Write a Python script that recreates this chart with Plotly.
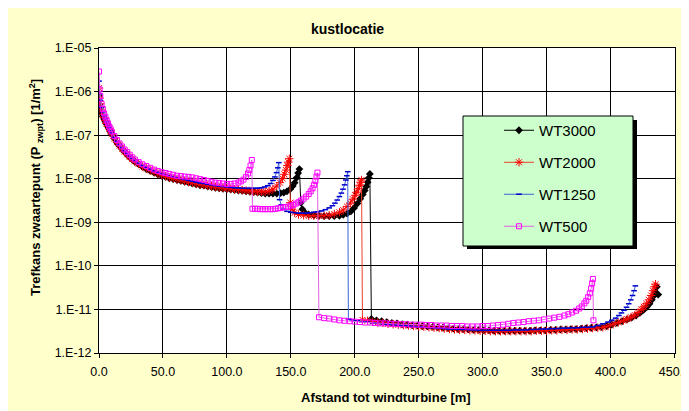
import plotly.graph_objects as go

# ---------------- data ----------------
series_names = ["WT3000", "WT2000", "WT1250", "WT500"]

# WT3000
wt3000_x1 = [0, 0.5, 1, 2, 3, 4, 5, 6, 7, 8, 9, 10, 12, 14, 16, 18, 20, 22, 24, 26, 28, 31, 34, 37, 40, 43, 46, 49, 52, 55, 58, 61, 64, 67, 70, 73, 76, 79, 82, 85, 88, 91, 94, 97, 100, 103, 106, 109, 112, 115, 118, 121, 124, 127, 130, 133, 136, 139, 142, 144.5, 147, 149.5, 151.5, 153, 154.5, 155.7, 156.7]
wt3000_y1 = [7.94e-7, 5.01e-7, 3.98e-7, 3.16e-7, 2.69e-7, 2.34e-7, 2.04e-7, 1.78e-7, 1.55e-7, 1.38e-7, 1.20e-7, 1.05e-7, 8.32e-8, 6.76e-8, 5.62e-8, 4.79e-8, 4.07e-8, 3.55e-8, 3.09e-8, 2.75e-8, 2.45e-8, 2.14e-8, 1.86e-8, 1.66e-8, 1.51e-8, 1.38e-8, 1.26e-8, 1.17e-8, 1.10e-8, 1.02e-8, 9.77e-9, 9.33e-9, 8.91e-9, 8.51e-9, 8.13e-9, 7.76e-9, 7.41e-9, 7.08e-9, 6.92e-9, 6.61e-9, 6.46e-9, 6.17e-9, 6.03e-9, 5.89e-9, 5.75e-9, 5.62e-9, 5.50e-9, 5.37e-9, 5.25e-9, 5.13e-9, 5.01e-9, 4.90e-9, 4.79e-9, 4.68e-9, 4.57e-9, 4.57e-9, 4.57e-9, 4.57e-9, 4.68e-9, 4.79e-9, 5.13e-9, 5.75e-9, 6.76e-9, 8.13e-9, 1.05e-8, 1.35e-8, 1.66e-8]
wt3000_x2 = [157.8, 159, 161, 164, 168, 172, 176, 180, 184, 188, 191, 194, 197, 199.5, 202, 204.3, 206.3, 207.8, 209, 210.1, 211, 211.8]
wt3000_y2 = [2.82e-9, 2.00e-9, 1.66e-9, 1.51e-9, 1.45e-9, 1.41e-9, 1.38e-9, 1.38e-9, 1.38e-9, 1.41e-9, 1.48e-9, 1.58e-9, 1.78e-9, 2.14e-9, 2.69e-9, 3.47e-9, 4.37e-9, 5.37e-9, 6.61e-9, 8.32e-9, 1.05e-8, 1.29e-8]
wt3000_x3 = [213, 217, 221, 225, 229, 233, 237, 241, 245, 249, 253, 257, 261, 265, 269, 273, 277, 281, 285, 289, 293, 297, 301, 305, 309, 313, 317, 321, 325, 329, 333, 337, 341, 345, 349, 353, 357, 361, 365, 369, 373, 377, 381, 385, 389, 393, 397, 401, 405, 409, 413, 416.5, 420, 423, 426, 428.5, 430.5, 432.3, 433.8, 435, 436.2, 437.3]
wt3000_y3 = [6.03e-12, 5.62e-12, 5.37e-12, 5.13e-12, 4.90e-12, 4.79e-12, 4.57e-12, 4.47e-12, 4.37e-12, 4.27e-12, 4.17e-12, 4.07e-12, 3.98e-12, 3.89e-12, 3.80e-12, 3.72e-12, 3.63e-12, 3.55e-12, 3.55e-12, 3.47e-12, 3.39e-12, 3.39e-12, 3.31e-12, 3.31e-12, 3.24e-12, 3.24e-12, 3.24e-12, 3.24e-12, 3.24e-12, 3.24e-12, 3.24e-12, 3.24e-12, 3.31e-12, 3.31e-12, 3.31e-12, 3.39e-12, 3.39e-12, 3.47e-12, 3.47e-12, 3.55e-12, 3.55e-12, 3.63e-12, 3.72e-12, 3.80e-12, 3.89e-12, 3.98e-12, 4.17e-12, 4.47e-12, 4.90e-12, 5.37e-12, 5.89e-12, 6.46e-12, 7.24e-12, 8.32e-12, 9.77e-12, 1.15e-11, 1.35e-11, 1.66e-11, 2.04e-11, 2.51e-11, 3.31e-11, 2.19e-11]

# WT2000
wt2000_x1 = [0, 0.5, 1, 2, 3, 4, 5, 6, 7, 8, 9, 10, 12, 14, 16, 18, 20, 22, 24, 26, 28, 31, 34, 37, 40, 43, 46, 49, 52, 55, 58, 61, 64, 67, 70, 73, 76, 79, 82, 85, 88, 91, 94, 97, 100, 103, 106, 109, 112, 115, 118, 121, 124, 127, 130, 133, 136, 139, 141.5, 143.5, 145, 146.2, 147.2, 148, 148.8]
wt2000_y1 = [1.20e-6, 7.08e-7, 5.25e-7, 3.80e-7, 3.02e-7, 2.51e-7, 2.14e-7, 1.86e-7, 1.62e-7, 1.41e-7, 1.26e-7, 1.07e-7, 8.51e-8, 6.92e-8, 5.75e-8, 4.90e-8, 4.17e-8, 3.63e-8, 3.16e-8, 2.82e-8, 2.51e-8, 2.19e-8, 1.91e-8, 1.74e-8, 1.58e-8, 1.45e-8, 1.32e-8, 1.23e-8, 1.15e-8, 1.07e-8, 1.02e-8, 9.77e-9, 9.33e-9, 8.91e-9, 8.51e-9, 8.13e-9, 7.76e-9, 7.41e-9, 7.24e-9, 6.92e-9, 6.76e-9, 6.46e-9, 6.31e-9, 6.17e-9, 6.03e-9, 5.89e-9, 5.75e-9, 5.62e-9, 5.50e-9, 5.37e-9, 5.25e-9, 5.13e-9, 5.01e-9, 5.01e-9, 5.01e-9, 5.25e-9, 5.75e-9, 6.76e-9, 8.13e-9, 1.02e-8, 1.26e-8, 1.58e-8, 2.00e-8, 2.40e-8, 2.88e-8]
wt2000_x2 = [149.6, 151, 153, 156, 160, 164, 168, 172, 176, 180, 184, 188, 191, 194, 196.5, 198.5, 200.3, 201.6, 202.8, 203.8, 204.6, 205.3]
wt2000_y2 = [2.82e-9, 2.00e-9, 1.66e-9, 1.51e-9, 1.45e-9, 1.41e-9, 1.41e-9, 1.41e-9, 1.41e-9, 1.45e-9, 1.55e-9, 1.70e-9, 1.91e-9, 2.29e-9, 2.75e-9, 3.39e-9, 4.17e-9, 4.90e-9, 5.89e-9, 7.08e-9, 8.32e-9, 9.33e-9]
wt2000_x3 = [206, 210, 214, 218, 222, 226, 230, 234, 238, 242, 246, 250, 254, 258, 262, 266, 270, 274, 278, 282, 286, 290, 294, 298, 302, 306, 310, 314, 318, 322, 326, 330, 334, 338, 342, 346, 350, 354, 358, 362, 366, 370, 374, 378, 382, 386, 390, 394, 398, 402, 406, 410, 413, 416, 419, 421.5, 424, 426, 428, 430, 431.8, 433.2, 434.3, 435.2]
wt2000_y3 = [5.75e-12, 5.50e-12, 5.25e-12, 5.01e-12, 4.90e-12, 4.68e-12, 4.57e-12, 4.47e-12, 4.37e-12, 4.27e-12, 4.17e-12, 4.07e-12, 3.98e-12, 3.89e-12, 3.80e-12, 3.72e-12, 3.63e-12, 3.55e-12, 3.47e-12, 3.39e-12, 3.39e-12, 3.31e-12, 3.31e-12, 3.24e-12, 3.24e-12, 3.16e-12, 3.16e-12, 3.16e-12, 3.16e-12, 3.16e-12, 3.16e-12, 3.16e-12, 3.16e-12, 3.16e-12, 3.24e-12, 3.24e-12, 3.24e-12, 3.31e-12, 3.31e-12, 3.39e-12, 3.39e-12, 3.47e-12, 3.47e-12, 3.55e-12, 3.63e-12, 3.72e-12, 3.80e-12, 3.89e-12, 4.17e-12, 4.57e-12, 5.01e-12, 5.50e-12, 6.03e-12, 6.61e-12, 7.41e-12, 8.51e-12, 1.00e-11, 1.15e-11, 1.35e-11, 1.66e-11, 2.09e-11, 2.69e-11, 3.31e-11, 3.80e-11]

# WT1250
wt1250_x1 = [0, 0.5, 1, 2, 3, 4, 5, 6, 7, 8, 9, 10, 12, 14, 16, 18, 20, 22, 24, 26, 28, 31, 34, 37, 40, 43, 46, 49, 52, 55, 58, 61, 64, 67, 70, 73, 76, 79, 82, 85, 88, 91, 94, 97, 100, 103, 106, 109, 112, 115, 118, 121, 124, 127, 129.5, 132, 134.2, 136, 137.5, 138.8, 139.8, 140.6]
wt1250_y1 = [1.74e-6, 8.91e-7, 6.31e-7, 4.37e-7, 3.39e-7, 2.75e-7, 2.34e-7, 2.00e-7, 1.70e-7, 1.48e-7, 1.29e-7, 1.12e-7, 8.91e-8, 7.24e-8, 6.03e-8, 5.13e-8, 4.37e-8, 3.80e-8, 3.31e-8, 2.95e-8, 2.63e-8, 2.29e-8, 2.00e-8, 1.82e-8, 1.66e-8, 1.51e-8, 1.38e-8, 1.29e-8, 1.20e-8, 1.15e-8, 1.10e-8, 1.05e-8, 1.00e-8, 9.55e-9, 9.12e-9, 8.71e-9, 8.32e-9, 7.94e-9, 7.76e-9, 7.41e-9, 7.24e-9, 6.92e-9, 6.76e-9, 6.61e-9, 6.46e-9, 6.31e-9, 6.17e-9, 6.17e-9, 6.03e-9, 6.03e-9, 6.03e-9, 6.03e-9, 6.03e-9, 6.17e-9, 6.46e-9, 6.92e-9, 7.76e-9, 9.12e-9, 1.10e-8, 1.38e-8, 1.78e-8, 2.34e-8]
wt1250_x2 = [141.2, 142.5, 144.5, 147, 150, 153, 156, 159, 162, 165, 168, 171, 174, 177, 180, 182.5, 184.5, 186.3, 188, 189.5, 190.8, 192, 193, 193.8, 194.5]
wt1250_y2 = [3.31e-9, 2.51e-9, 2.00e-9, 1.78e-9, 1.70e-9, 1.66e-9, 1.62e-9, 1.62e-9, 1.62e-9, 1.66e-9, 1.70e-9, 1.74e-9, 1.82e-9, 1.95e-9, 2.14e-9, 2.40e-9, 2.75e-9, 3.24e-9, 3.89e-9, 4.68e-9, 5.75e-9, 7.24e-9, 9.33e-9, 1.17e-8, 1.45e-8]
wt1250_x3 = [195, 198, 202, 206, 210, 214, 218, 222, 226, 230, 234, 238, 242, 246, 250, 254, 258, 262, 266, 270, 274, 278, 282, 286, 290, 294, 298, 302, 306, 310, 314, 318, 322, 326, 330, 334, 338, 342, 346, 350, 354, 358, 362, 366, 370, 374, 378, 382, 386, 390, 394, 398, 401, 404, 406.5, 408.5, 410.5, 412.5, 414.2, 415.8, 417.2, 418.4, 419.4]
wt1250_y3 = [6.03e-12, 5.75e-12, 5.50e-12, 5.25e-12, 5.13e-12, 4.90e-12, 4.79e-12, 4.68e-12, 4.57e-12, 4.47e-12, 4.37e-12, 4.27e-12, 4.17e-12, 4.07e-12, 3.98e-12, 3.89e-12, 3.80e-12, 3.80e-12, 3.72e-12, 3.63e-12, 3.55e-12, 3.55e-12, 3.47e-12, 3.47e-12, 3.39e-12, 3.39e-12, 3.31e-12, 3.31e-12, 3.31e-12, 3.31e-12, 3.31e-12, 3.31e-12, 3.31e-12, 3.39e-12, 3.39e-12, 3.39e-12, 3.47e-12, 3.47e-12, 3.55e-12, 3.55e-12, 3.63e-12, 3.63e-12, 3.72e-12, 3.72e-12, 3.80e-12, 3.80e-12, 3.89e-12, 3.89e-12, 3.98e-12, 4.27e-12, 4.68e-12, 5.13e-12, 5.62e-12, 6.31e-12, 7.24e-12, 8.32e-12, 9.55e-12, 1.12e-11, 1.35e-11, 1.66e-11, 2.09e-11, 2.69e-11, 3.47e-11]

# WT500
wt500_x1 = [0, 0.5, 1, 2, 3, 4, 5, 6, 7, 8, 9, 10, 12, 14, 16, 18, 20, 22, 24, 26, 28, 31, 34, 37, 40, 43, 46, 49, 52, 55, 58, 61, 64, 67, 70, 73, 76, 79, 82, 85, 88, 91, 94, 97, 100, 103, 106, 109, 111, 113, 115, 116.5, 117.5, 118.5, 119.5]
wt500_y1 = [2.88e-6, 1.12e-6, 7.94e-7, 5.25e-7, 3.98e-7, 3.16e-7, 2.63e-7, 2.19e-7, 1.86e-7, 1.58e-7, 1.38e-7, 1.20e-7, 9.55e-8, 7.76e-8, 6.46e-8, 5.50e-8, 4.68e-8, 4.07e-8, 3.55e-8, 3.09e-8, 2.75e-8, 2.40e-8, 2.14e-8, 1.95e-8, 1.78e-8, 1.62e-8, 1.51e-8, 1.41e-8, 1.35e-8, 1.29e-8, 1.23e-8, 1.17e-8, 1.15e-8, 1.12e-8, 1.10e-8, 1.07e-8, 1.02e-8, 9.77e-9, 9.33e-9, 8.91e-9, 8.51e-9, 8.13e-9, 7.94e-9, 7.76e-9, 7.59e-9, 7.59e-9, 7.76e-9, 8.13e-9, 8.71e-9, 9.55e-9, 1.10e-8, 1.32e-8, 1.58e-8, 2.00e-8, 2.69e-8]
wt500_x2 = [120, 122, 124, 126, 128, 130, 132, 134, 136, 138, 140, 142, 144, 146, 148, 150, 152, 154, 156, 158, 160, 162, 164, 165.5, 167, 168.2, 169.2, 170.1, 170.8]
wt500_y2 = [2.04e-9, 2.04e-9, 2.04e-9, 2.00e-9, 2.00e-9, 2.00e-9, 2.00e-9, 2.00e-9, 2.00e-9, 2.04e-9, 2.09e-9, 2.14e-9, 2.19e-9, 2.24e-9, 2.29e-9, 2.40e-9, 2.51e-9, 2.69e-9, 2.88e-9, 3.16e-9, 3.47e-9, 3.89e-9, 4.47e-9, 5.13e-9, 6.03e-9, 7.24e-9, 8.91e-9, 1.12e-8, 1.38e-8]
wt500_x3 = [172, 176, 180, 184, 188, 192, 196, 200, 204, 208, 212, 216, 220, 224, 228, 232, 236, 240, 244, 248, 252, 256, 260, 264, 268, 272, 276, 280, 284, 288, 292, 296, 300, 304, 308, 312, 316, 320, 324, 328, 332, 336, 340, 344, 348, 352, 356, 360, 364, 367, 370, 373, 375.5, 377.5, 379.5, 381, 382.5, 383.8, 384.8, 385.6, 386.2, 386.6]
wt500_y3 = [6.61e-12, 6.31e-12, 6.17e-12, 5.89e-12, 5.62e-12, 5.50e-12, 5.37e-12, 5.25e-12, 5.13e-12, 5.01e-12, 5.01e-12, 4.90e-12, 4.79e-12, 4.79e-12, 4.68e-12, 4.68e-12, 4.57e-12, 4.57e-12, 4.47e-12, 4.47e-12, 4.47e-12, 4.37e-12, 4.37e-12, 4.27e-12, 4.27e-12, 4.27e-12, 4.17e-12, 4.17e-12, 4.17e-12, 4.07e-12, 4.07e-12, 4.07e-12, 4.17e-12, 4.17e-12, 4.27e-12, 4.37e-12, 4.47e-12, 4.68e-12, 4.90e-12, 5.01e-12, 5.13e-12, 5.37e-12, 5.50e-12, 5.62e-12, 5.89e-12, 6.17e-12, 6.46e-12, 6.76e-12, 7.24e-12, 7.76e-12, 8.51e-12, 9.33e-12, 1.05e-11, 1.17e-11, 1.38e-11, 1.58e-11, 1.91e-11, 2.34e-11, 3.02e-11, 3.98e-11, 5.01e-11, 5.62e-12]

y_tick_vals = [1e-12, 1e-11, 1e-10, 1e-9, 1e-8, 1e-7, 1e-6, 1e-5]
y_tick_text = ["1.E-12", "1.E-11", "1.E-10", "1.E-09", "1.E-08", "1.E-07", "1.E-06", "1.E-05"]
x_tick_vals = [0, 50, 100, 150, 200, 250, 300, 350, 400, 450]

# ---------------- figure ----------------
# the page body adds an 8 px offset; screenshot coords s -> figure coords s - 8
OFF = 8
W, H = 702, 411 - OFF
L, R, T, B = 99 - OFF, 675 - OFF, 48 - OFF, 353 - OFF


def px(xs):
    return (xs - OFF - L) / (R - L)


def py(ys):
    return 1 - (ys - OFF - T) / (B - T)


FONT = "Liberation Sans, Arial, sans-serif"

series = [
    (series_names[0], wt3000_x1 + wt3000_x2 + wt3000_x3, wt3000_y1 + wt3000_y2 + wt3000_y3,
     dict(color="#000000", width=1),
     dict(symbol="diamond", size=6, color="#000000", line=dict(width=0))),
    (series_names[1], wt2000_x1 + wt2000_x2 + wt2000_x3, wt2000_y1 + wt2000_y2 + wt2000_y3,
     dict(color="#E8402A", width=1),
     dict(symbol="asterisk-open", size=7, color="#FF0000", line=dict(width=1, color="#FF0000"))),
    (series_names[2], wt1250_x1 + wt1250_x2 + wt1250_x3, wt1250_y1 + wt1250_y2 + wt1250_y3,
     dict(color="#3A63D8", width=1),
     dict(symbol="line-ew-open", size=4, color="#0000CC", line=dict(width=1.5, color="#0000CC"))),
    (series_names[3], wt500_x1 + wt500_x2 + wt500_x3, wt500_y1 + wt500_y2 + wt500_y3,
     dict(color="#E060E0", width=1),
     dict(symbol="square-open", size=5, color="#FF00FF", line=dict(width=1, color="#FF00FF"))),
]

fig = go.Figure()
for name, xs, ys, ln, mk in series:
    fig.add_trace(go.Scatter(x=xs, y=ys, name=name, mode="lines+markers",
                             line=ln, marker=mk, legendgroup=name))

shapes = [
    # legend shadow and box
    dict(type="rect", xref="paper", yref="paper", x0=px(467), x1=px(637), y0=py(249), y1=py(120),
         fillcolor="#000000", line=dict(width=0), layer="above"),
    dict(type="rect", xref="paper", yref="paper", x0=px(463), x1=px(633), y0=py(246), y1=py(116),
         fillcolor="#CCFFCC", line=dict(width=1, color="#000000"), layer="above"),
]

annotations = [
    dict(text="<b>kustlocatie</b>", xref="paper", yref="paper", x=px(347), y=py(29),
         xanchor="center", yanchor="middle", showarrow=False,
         font=dict(family=FONT, size=14, color="#000000")),
    dict(text="<b>Afstand tot windturbine [m]</b>", xref="paper", yref="paper", x=px(386), y=py(397),
         xanchor="center", yanchor="middle", showarrow=False,
         font=dict(family=FONT, size=13, color="#000000")),
    dict(text="<b>Trefkans zwaartepunt (P <sub>zwpt</sub>) [1/m<sup>2</sup>]</b>", xref="paper", yref="paper",
         x=px(36), y=py(188), xanchor="center", yanchor="middle", textangle=-90, showarrow=False,
         font=dict(family=FONT, size=13, color="#000000")),
]

fig.update_layout(
    width=W, height=H,
    margin=dict(l=L, r=W - R, t=T, b=H - B, pad=0, autoexpand=False),
    paper_bgcolor="#FFFFCC",
    plot_bgcolor="#FFFFFF",
    font=dict(family=FONT, size=12.5, color="#000000"),
    showlegend=True,
    legend=dict(x=px(499), y=py(114), xanchor="left", yanchor="top",
                bgcolor="rgba(0,0,0,0)", borderwidth=0,
                font=dict(family=FONT, size=15, color="#000000"),
                tracegroupgap=9.5, itemsizing="trace"),
    shapes=shapes,
    annotations=annotations,
)

fig.update_xaxes(range=[0, 450.4], tickvals=x_tick_vals, tickformat=".1f", automargin=False,
                 showgrid=True, gridcolor="#000000", gridwidth=1,
                 showline=True, linecolor="#000000", linewidth=1, mirror=True,
                 ticks="outside", ticklen=4, tickcolor="#000000",
                 zeroline=False, ticklabelstandoff=3, ticklabeloverflow="allow",
                 tickfont=dict(family=FONT, size=12.5, color="#000000"))
fig.update_yaxes(type="log", range=[-12, -5], tickvals=y_tick_vals, ticktext=y_tick_text,
                 automargin=False,
                 showgrid=True, gridcolor="#000000", gridwidth=1,
                 showline=True, linecolor="#000000", linewidth=1, mirror=True,
                 ticks="outside", ticklen=4, tickcolor="#000000",
                 zeroline=False, ticklabeloverflow="allow",
                 tickfont=dict(family=FONT, size=12.5, color="#000000"))

fig.write_html("out.html")
